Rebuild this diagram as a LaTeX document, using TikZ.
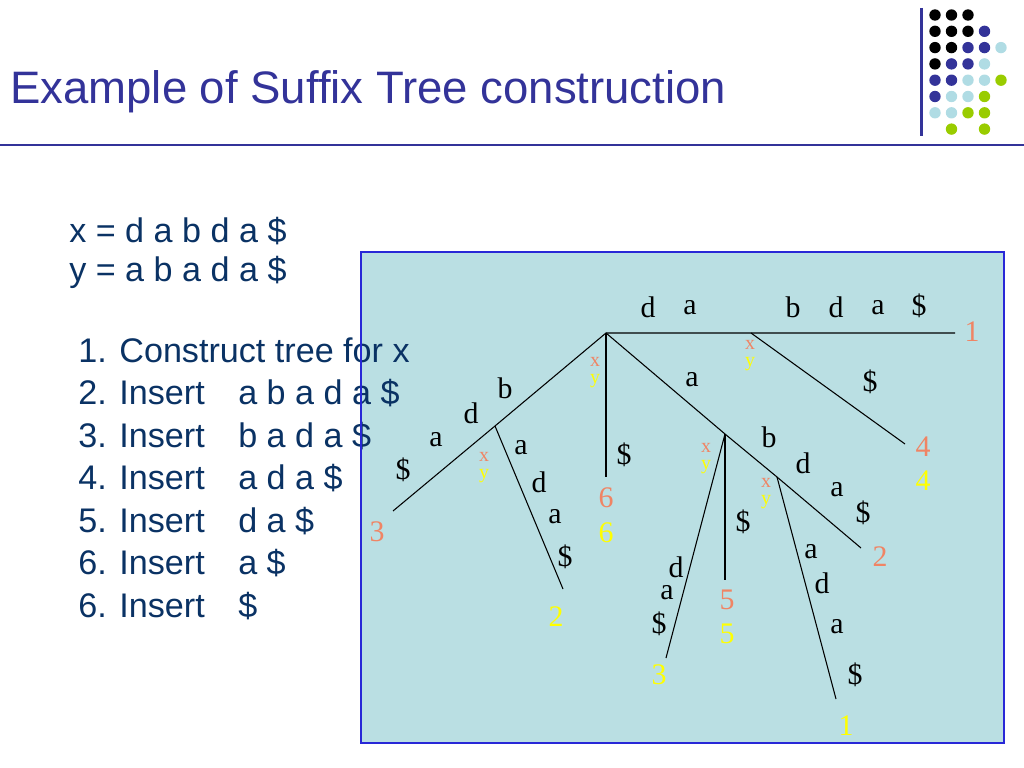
\documentclass[tikz,border=0pt]{standalone}
\usepackage{fontspec}
\setmainfont{Liberation Serif}
\newfontfamily\slidefont{Liberation Sans}
\usetikzlibrary{positioning}
\definecolor{titleblue}{RGB}{51,51,153}
\definecolor{textblue}{RGB}{10,50,100}
\definecolor{boxfill}{RGB}{186,223,227}
\definecolor{boxline}{RGB}{40,40,215}
\definecolor{salmon}{RGB}{240,132,100}
\definecolor{leafyellow}{RGB}{255,255,0}
\definecolor{dotlight}{RGB}{176,220,228}
\definecolor{dotgreen}{RGB}{153,204,0}
\tikzset
{
  treeedge/.style  = {draw=black, line width=0.75pt},
  edgelabel/.style = {inner sep=0pt, font=\fontsize{21}{25}\selectfont},
  xleaf/.style     = {inner sep=0pt, text=salmon, font=\fontsize{21}{25}\selectfont},
  yleaf/.style     = {inner sep=0pt, text=leafyellow, font=\fontsize{21}{25}\selectfont, below=9.8pt of #1},
  xmark/.style     = {inner sep=0pt, text=salmon, font=\fontsize{14}{16}\selectfont},
  ymark/.style     = {inner sep=0pt, text=leafyellow, font=\fontsize{14}{16}\selectfont, below=4.8pt of #1},
  slidetext/.style = {anchor=base west, inner sep=0pt, text=textblue, font=\slidefont\fontsize{24}{29}\selectfont}
}

\begin{document}
\begin{tikzpicture}[x=0.703125pt,y=-0.703125pt]
  \useasboundingbox (0,0) rectangle (1024,768);
  % title and rules
  \node[anchor=base west, inner sep=0pt, text=titleblue, font=\slidefont\fontsize{32}{38}\selectfont] (title) at (10,103.5) {Example of Suffix Tree construction};
  \draw[titleblue, line width=2pt] (0,145) -- (1024,145);
  \draw[titleblue, line width=1.5pt] (921.5,8) -- (921.5,136);
  \foreach \col/\row/\c in {1/1/black,2/1/black,3/1/black,
      1/2/black,2/2/black,3/2/black,4/2/titleblue,
      1/3/black,2/3/black,3/3/titleblue,4/3/titleblue,5/3/dotlight,
      1/4/black,2/4/titleblue,3/4/titleblue,4/4/dotlight,
      1/5/titleblue,2/5/titleblue,3/5/dotlight,4/5/dotlight,5/5/dotgreen,
      1/6/titleblue,2/6/dotlight,3/6/dotlight,4/6/dotgreen,
      1/7/dotlight,2/7/dotlight,3/7/dotgreen,4/7/dotgreen,
      2/8/dotgreen,4/8/dotgreen}
    \fill[\c] ({918.5+16.5*\col},{-1.3+16.3*\row}) circle (4pt);

  % box behind the tree
  \fill[boxfill] (361,252) rectangle (1004,743);

  % strings and steps
  \node[slidetext] (xstr) at (69,243) {x = d a b d a \$};
  \node[slidetext] (ystr) at (69,282) {y = a b a d a \$};
  \node[slidetext] (step0) at (78,362) {1. Construct tree for x};
  \foreach \n/\s [count=\i] in {2/a b a d a \$,3/b a d a \$,4/a d a \$,5/d a \$,6/a \$,6/\$}
  {
    \node[slidetext] (step\i) at (78,{362+42.5*\i}) {\n. Insert};
    \node[slidetext] (suf\i) at (238,{362+42.5*\i}) {\s};
  }
  \draw[boxline, line width=1.5pt] (361,252) rectangle (1004,743);

  % tree
  \coordinate (root) at (606,333);
  \coordinate (n1) at (751,333);
  \coordinate (n2) at (495,426);
  \coordinate (n3) at (725,434);
  \coordinate (n4) at (777,477);
  \coordinate (x1) at (955,333);
  \coordinate (x2) at (861,548);
  \coordinate (x3) at (393,511);
  \coordinate (xy4) at (905,444);
  \coordinate (xy5) at (725,580);
  \coordinate (xy6) at (606,477);
  \coordinate (y1) at (836,699);
  \coordinate (y2) at (563,589);
  \coordinate (y3) at (666,658);
  \draw[treeedge] (x3) -- (n2) -- (root) -- (n1) -- (x1);
  \draw[treeedge] (root) -- (xy6);
  \draw[treeedge] (root) -- (n3) -- (n4) -- (x2);
  \draw[treeedge] (n1) -- (xy4);
  \draw[treeedge] (n2) -- (y2);
  \draw[treeedge] (n3) -- (y3);
  \draw[treeedge] (n3) -- (xy5);
  \draw[treeedge] (n4) -- (y1);

  % edge labels
  \foreach \t/\px/\py [count=\i] in {d/648/307,a/690/308,b/793/307,d/836/307,a/878/308,\$/919/306,
      b/505/388,d/471/413,a/436/440,\$/403/470,
      a/521/448,d/539/482,a/555/517,\$/565/557,
      \$/624/455,a/692/380,\$/870/382,
      b/769/437,d/803/463,a/837/490,\$/863/513,
      d/676/567,a/667/593,\$/659/624,\$/743/522,
      a/811/552,d/822/583,a/837/627,\$/855/675}
    \node[edgelabel] (lbl\i) at (\px,\py) {\t};

  % leaves
  \node[xleaf] (leafx1) at (972,332) {1};
  \node[xleaf] (leafx2) at (880,557) {2};
  \node[xleaf] (leafx3) at (377,532) {3};
  \node[xleaf] (leafx4) at (923,447) {4};
  \node[yleaf=leafx4] (leafy4) {4};
  \node[xleaf] (leafx5) at (727,600) {5};
  \node[yleaf=leafx5] (leafy5) {5};
  \node[xleaf] (leafx6) at (606,498) {6};
  \node[yleaf=leafx6] (leafy6) {6};
  \node[xleaf, text=leafyellow] (leafy1) at (846,726) {1};
  \node[xleaf, text=leafyellow] (leafy2) at (556,617) {2};
  \node[xleaf, text=leafyellow] (leafy3) at (659,675) {3};

  % x/y marks at the inner nodes
  \foreach \m/\px/\py in {root/595/362,n1/750/345,n2/484/457,n3/706/448,n4/766/483}
  {
    \node[xmark] (mx\m) at (\px,\py) {x};
    \node[ymark=mx\m] (my\m) {y};
  }
\end{tikzpicture}
\end{document}
